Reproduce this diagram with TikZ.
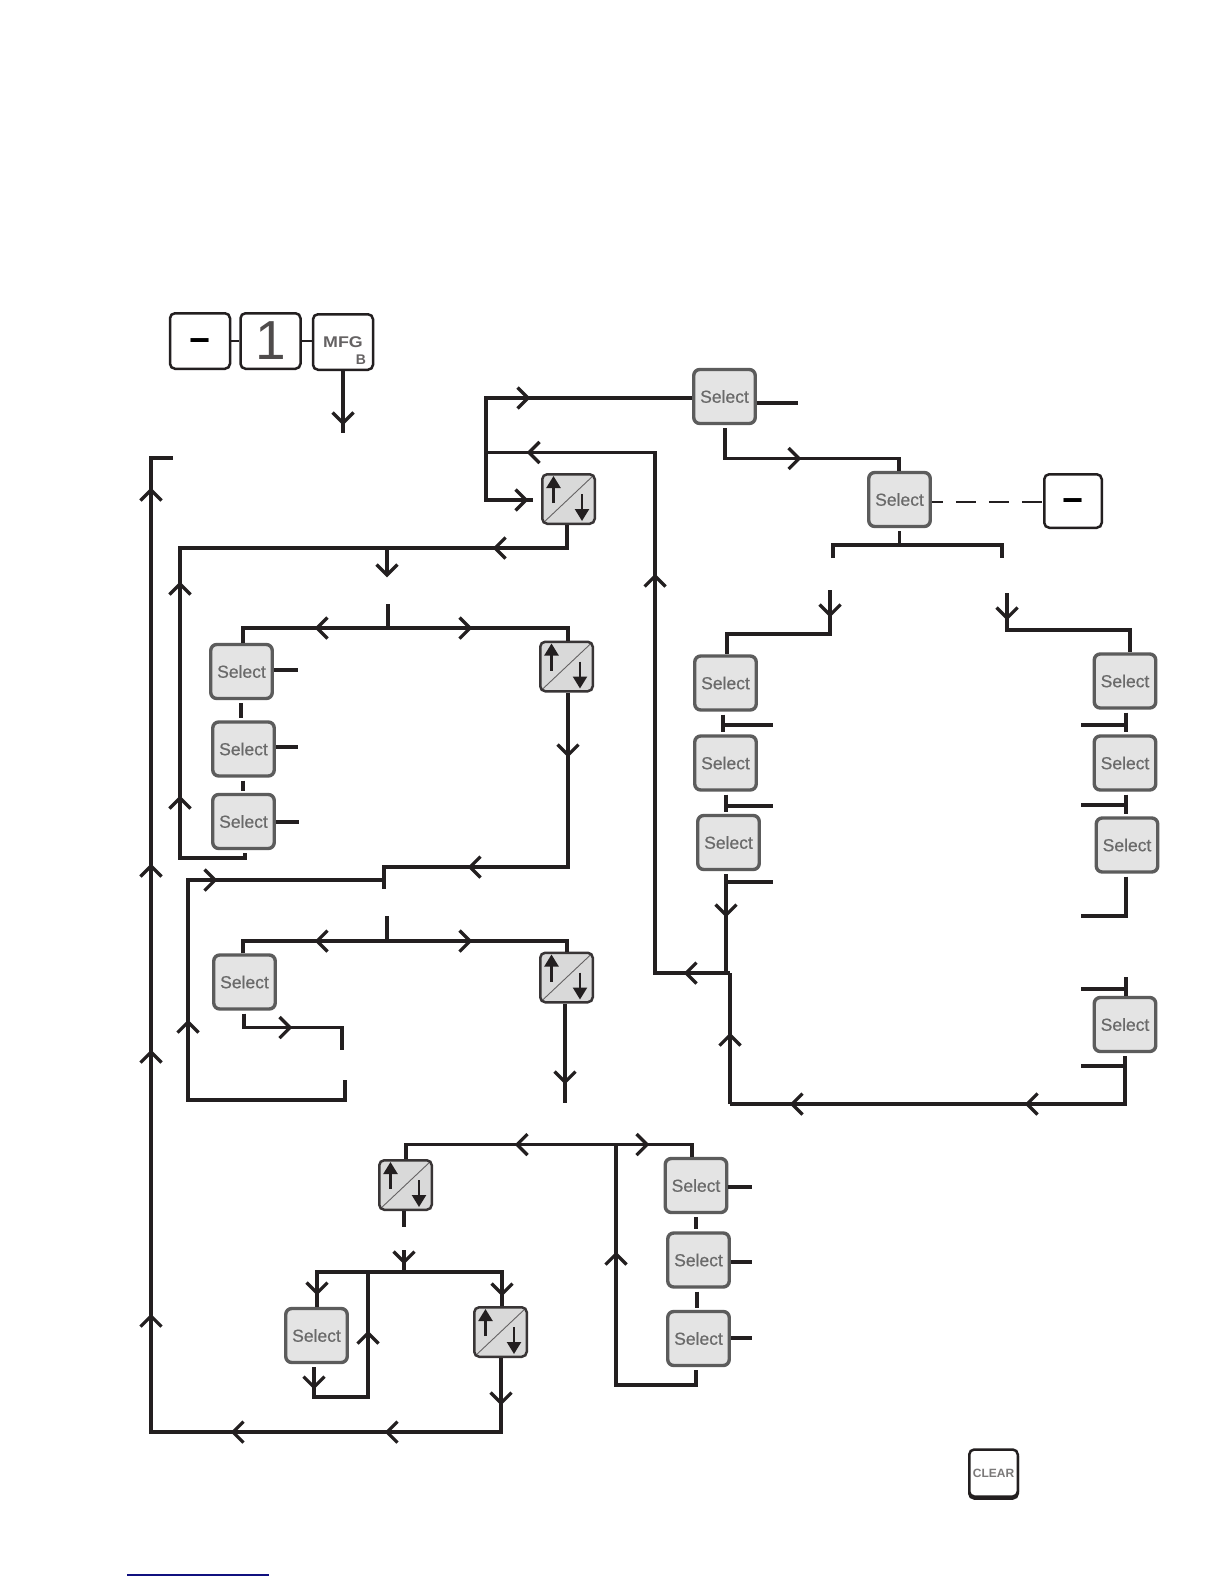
\documentclass[tikz,border=0pt]{standalone}
\usepackage{fontspec}
\setmainfont{Liberation Sans}
\newfontfamily\selface[FakeBold=0.6]{Liberation Sans}
\newfontfamily\mfgface[FakeStretch=1.15]{Liberation Sans}
\usetikzlibrary{arrows.meta,calc}
\definecolor{linecol}{HTML}{231F20}
\definecolor{selfill}{HTML}{E4E4E4}
\definecolor{seldraw}{HTML}{5C5C5C}
\definecolor{selink}{HTML}{6A6A6A}
\definecolor{udfill}{HTML}{D9D9D9}
\definecolor{rulecol}{HTML}{10107F}
\tikzset{
  link/.style={draw=linecol,line width=3.2pt},
  thinlink/.style={draw=linecol,line width=1.4pt},
  gapS/.style={shorten <=3pt},
  gapB/.style={shorten <=3pt,shorten >=2pt},
  keybtn/.style={draw=linecol,fill=white,line width=2.5pt,rounded corners=5pt,inner sep=0pt,minimum width=60pt,minimum height=55.5pt},
  selbtn/.style={draw=seldraw,fill=selfill,line width=3.4pt,rounded corners=6pt,inner sep=0pt,minimum width=61.5pt,minimum height=54pt,text=selink,font=\selface\fontsize{17.5}{18}\selectfont},
  updn/.style={draw=linecol!90,fill=udfill,line width=2.5pt,rounded corners=5pt,inner sep=0pt,minimum width=52.5pt,minimum height=49.5pt,
    path picture={
      \draw[line width=0.9pt,draw=linecol!70] (path picture bounding box.south west) -- (path picture bounding box.north east);
      \draw[shift={(path picture bounding box.center)},line width=2.3pt,draw=linecol,-{Triangle[length=12pt,width=14pt]}] (-15,4) -- (-15,-23);
      \draw[shift={(path picture bounding box.center)},line width=2.3pt,draw=linecol,-{Triangle[length=12pt,width=14pt]}] (13.5,-5) -- (13.5,22);
    }},
  pr/.style={rotate=0}, pu/.style={rotate=90}, pl/.style={rotate=180}, pd/.style={rotate=270},
  chev/.pic={\draw[link,line join=miter] (-10.5,-10.5) -- (0,0) -- (-10.5,10.5);}
}
\begin{document}
\begin{tikzpicture}[x=1pt,y=-1pt]
\fill[white] (0,0) rectangle (1224,1584);
\useasboundingbox (0,0) rectangle (1224,1584);
% keys
\node[keybtn,font=\bfseries\fontsize{36}{36}\selectfont] (kMinus) at (200,341) {\raisebox{-11.5pt}[0pt][0pt]{−}};
\node[keybtn,font=\fontsize{55}{55}\selectfont,text=linecol!80] (kOne) at (270.5,341) {1};
\node[keybtn,font=\mfgface\bfseries\fontsize{15.5}{16}\selectfont,text=linecol!70] (kMfg) at (343,342) {MFG};
\node[font=\bfseries\fontsize{14}{14}\selectfont,text=linecol!70,inner sep=0pt] (kMfgB) at (361,360) {B};
\node[keybtn,minimum width=57.5pt,minimum height=53.5pt,font=\bfseries\fontsize{36}{36}\selectfont] (kDash) at (1073,501) {\raisebox{-11.5pt}[0pt][0pt]{−}};
\node[keybtn,minimum width=48.5pt,minimum height=47pt,font=\bfseries\fontsize{12}{12}\selectfont,text=linecol!60,preaction={draw=linecol,line width=2.5pt,transform canvas={yshift=-2pt}}] (kClear) at (993.5,1473) {CLEAR};
% select keys
\node[selbtn] (sG) at (724.5,396.5) {Select};
\node[selbtn] (sH) at (899.5,499.5) {Select};
\node[selbtn] (sA) at (241.5,671.5) {Select};
\node[selbtn] (sB) at (243.5,749) {Select};
\node[selbtn] (sC) at (243.5,821.5) {Select};
\node[selbtn] (sE) at (244.5,982) {Select};
\node[selbtn] (sI) at (725.5,683) {Select};
\node[selbtn] (sJ) at (725.5,763) {Select};
\node[selbtn] (sK) at (728.5,842.5) {Select};
\node[selbtn] (sL) at (1125,681) {Select};
\node[selbtn] (sM) at (1125,763) {Select};
\node[selbtn] (sN) at (1127,845) {Select};
\node[selbtn] (sP) at (1125,1024.5) {Select};
\node[selbtn] (sR) at (316.5,1335.5) {Select};
\node[selbtn] (sT) at (696,1185.5) {Select};
\node[selbtn] (sU) at (698.5,1260) {Select};
\node[selbtn] (sV) at (698.5,1338.5) {Select};
% up/down keys
\node[updn] (uA) at (568.5,499) {};
\node[updn] (uD) at (566.5,666.5) {};
\node[updn] (uF) at (566.5,977.5) {};
\node[updn] (uQ) at (405.5,1185) {};
\node[updn] (uS) at (500.5,1332) {};
% free ends
\coordinate (cMfg) at (343,433);
\coordinate (tlEnd) at (173,458);
\coordinate (jTop) at (486,398);
\coordinate (jBack) at (486,452.5);
\coordinate (uAin) at (533,500);
\coordinate (jR) at (730,973);
\coordinate (bDrop) at (387,575);
\coordinate (bTopA) at (388,604);
\coordinate (bTopB) at (387,916);
\coordinate (dUA) at (384,889);
\coordinate (dEr) at (342,1050);
\coordinate (dEl) at (345,1080);
\coordinate (dF) at (565,1103);
\coordinate (dQa) at (404,1227);
\coordinate (dQb) at (404,1250);
\coordinate (eG) at (798,403);
\coordinate (eA) at (298,670);
\coordinate (eB) at (298,747);
\coordinate (eC) at (299,822);
\coordinate (eT) at (752,1187);
\coordinate (eU) at (752,1262);
\coordinate (eV) at (752,1338);
\coordinate (fHl) at (833,558);
\coordinate (fHr) at (1002,558);
\coordinate (fLa) at (830,590);
\coordinate (fRa) at (1007,593);
\coordinate (tI) at (723,725);   \coordinate (eI) at (773,725);
\coordinate (tJ) at (726,806);   \coordinate (eJ) at (773,806);
\coordinate (tK) at (726,882);   \coordinate (eK) at (773,882);
\coordinate (tL) at (1126,725);  \coordinate (eL) at (1081,725);
\coordinate (tM) at (1126,805);  \coordinate (eM) at (1081,805);
\coordinate (eN) at (1081,916);
\coordinate (tPa) at (1126,977); \coordinate (tPb) at (1126,989); \coordinate (ePa) at (1081,989);
\coordinate (tPc) at (1125,1066); \coordinate (ePb) at (1081,1066);
% key row
\draw[link,line width=2.6pt] (kMinus.east) -- (kOne.west);
\draw[link,line width=2.6pt] (kOne.east) -- (kOne.east -| kMfg.west);
\draw[link] (kMfg.south) -- (cMfg);
\pic[pd] at (343,423) {chev};
% outer return loop
\draw[link] (501,0 |- uS.south) |- (151,1432) |- (tlEnd);
\pic[pl] at (387,1432) {chev};
\pic[pl] at (233,1432) {chev};
\pic[pu] at (151,1316) {chev};
\pic[pu] at (151,1052) {chev};
\pic[pu] at (151,866) {chev};
\pic[pu] at (151,490) {chev};
\pic[pd] at (501,1403) {chev};
% top junction
\draw[link] (sG.west |- jTop) -- (jTop) |- (uAin);
\pic[pr] at (528,398) {chev};
\pic[pr] at (526,500) {chev};
\draw[link] (jBack) -| (655,973) -- (jR);
\pic[pl] at (529,452.5) {chev};
\pic[pu] at (655,576) {chev};
\pic[pl] at (686,973) {chev};
% sG, sH
\draw[link] (sG.east |- eG) -- (eG);
\draw[link,gapS] (725,0 |- sG.south) |- (899,458.5) -- (sH.north -| 899,0);
\pic[pr] at (799,458.5) {chev};
\draw[thinlink,dash pattern=on 20pt off 13pt,dash phase=9pt] (sH.east |- 0,502) -- (kDash.west |- 0,502);
\draw[link,gapS] (sH.south) -- (899.5,545);
\draw[link] (fHl) |- (fHr |- 0,545) -- (fHr);
% right branches
\draw[link] (fLa) |- (727,634) -- (727,0 |- sI.north);
\pic[pd] at (830,615) {chev};
\draw[link] (fRa) |- (1130,630) -- (1130,0 |- sL.north);
\pic[pd] at (1007,618) {chev};
% left Select column of branch
\draw[link,gapB] (723,0 |- sI.south) -- (723,0 |- sJ.north);
\draw[link,gapB] (726,0 |- sJ.south) -- (726,0 |- sK.north);
\draw[link] (tI) -- (eI);
\draw[link] (tJ) -- (eJ);
\draw[link] (tK) -- (eK);
\draw[link,gapS] (726,0 |- sK.south) -- (726,973);
\pic[pd] at (726,915) {chev};
% right Select column of branch
\draw[link,gapB] (1126,0 |- sL.south) -- (1126,0 |- sM.north);
\draw[link,gapB] (1126,0 |- sM.south) -- (1126,0 |- sN.north);
\draw[link] (tL) -- (eL);
\draw[link] (tM) -- (eM);
\draw[link,gapS] (1126,0 |- sN.south) |- (eN);
\draw[link] (tPa) -- (tPa |- sP.north);
\draw[link] (tPb) -- (ePa);
\draw[link] (tPc) -- (ePb);
\draw[link,line width=4pt,gapS] (sP.south) |- (730,1104);
\draw[link] (730,1104) -- (jR);
\pic[pl] at (1027,1104) {chev};
\pic[pl] at (792,1104) {chev};
\pic[pu] at (730,1035) {chev};
% from uA to first group
\draw[link] (567,0 |- uA.south) |- (180,548) |- (245,858) -- (245,853);
\pic[pl] at (495,548) {chev};
\pic[pu] at (180,584) {chev};
\pic[pu] at (180,798) {chev};
\draw[link] (387,548) -- (bDrop);
\pic[pd] at (387,575) {chev};
% first split
\draw[link] (bTopA) -- (388,628);
\draw[link] (243,0 |- sA.north) |- (568,628) -- (568,0 |- uD.north);
\pic[pl] at (317,628) {chev};
\pic[pr] at (470,628) {chev};
\draw[link] (sA.east |- eA) -- (eA);
\draw[link] (sB.east |- eB) -- (eB);
\draw[link] (sC.east |- eC) -- (eC);
\draw[link,gapB] (241,0 |- sA.south) -- (241,0 |- sB.north);
\draw[link,gapB] (243,0 |- sB.south) -- (243,0 |- sC.north);
% uD down
\draw[link] (568,0 |- uD.south) |- (384,867) -- (dUA);
\pic[pd] at (568,755) {chev};
\pic[pl] at (470,867) {chev};
\draw[link] (384,880) -- (188,880) |- (345,1100) -- (dEl);
\pic[pr] at (215,880) {chev};
\pic[pu] at (188,1022) {chev};
% second split
\draw[link] (bTopB) -- (387,941);
\draw[link] (243,0 |- sE.north) |- (567,941) -- (567,0 |- uF.north);
\pic[pl] at (317,941) {chev};
\pic[pr] at (470,941) {chev};
\draw[link,gapS] (244,0 |- sE.south) |- (342,1027.5) -- (dEr);
\pic[pr] at (290,1027.5) {chev};
\draw[link] (565,0 |- uF.south) -- (dF);
\pic[pd] at (565,1082) {chev};
% third split
\draw[link] (406,0 |- uQ.north) |- (692,1144.5) -- (692,0 |- sT.north);
\pic[pl] at (517,1144.5) {chev};
\pic[pr] at (647,1144.5) {chev};
\draw[link] (616,1144.5) -- (616,1385) -| (696,1370);
\pic[pu] at (616,1254) {chev};
\draw[link] (sT.east |- eT) -- (eT);
\draw[link] (sU.east |- eU) -- (eU);
\draw[link] (sV.east |- eV) -- (eV);
\draw[link,gapB] (696,0 |- sT.south) -- (696,0 |- sU.north);
\draw[link,gapB] (697,0 |- sU.south) -- (697,0 |- sV.north);
% uQ down
\draw[link] (404,0 |- uQ.south) -- (dQa);
\draw[link] (dQb) -- (404,1272);
\pic[pd] at (404,1262) {chev};
\draw[link] (317,0 |- sR.north) |- (502,1272) -- (502,0 |- uS.north);
\pic[pd] at (317,1293) {chev};
\pic[pd] at (502,1294) {chev};
\draw[link,gapS] (314,0 |- sR.south) |- (368,1397) -- (368,1272);
\pic[pd] at (314,1387) {chev};
\pic[pu] at (368,1333) {chev};
% rule at foot
\coordinate (ruleA) at (127,1575); \coordinate (ruleB) at (269,1575);
\draw[draw=rulecol,line width=1.3pt] (ruleA) -- (ruleB);
\end{tikzpicture}
\end{document}
